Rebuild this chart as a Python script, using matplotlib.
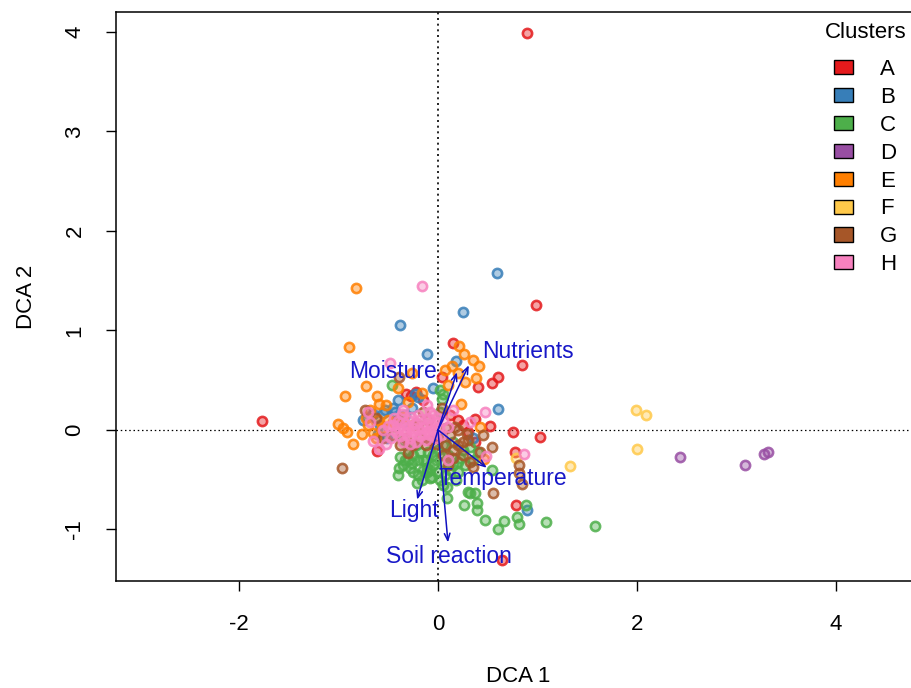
"""
DCA ordination of plots coloured by cluster, with fitted env arrows
"""
import numpy as np
import matplotlib
matplotlib.use("Agg")
import matplotlib.pyplot as plt

plt.rcParams['font.family'] = ['Liberation Sans', 'DejaVu Sans']
plt.rcParams['axes.unicode_minus'] = False

clusters = ["A", "B", "C", "D", "E", "F", "G", "H"]
cluster_colors = ["#E41A1C", "#377EB8", "#4DAF4A", "#984EA3",
                  "#FF7F00", "#FFC94A", "#A65628", "#F781BF"]

# site scores (DCA1, DCA2), one array per cluster
pts_A = np.array([[0.89, 3.99], [0.98, 1.26], [-1.77, 0.09], [0.64, -1.31],
                  [1.03, -0.07], [0.75, -0.02], [0.84, 0.65], [0.15, 0.87],
                  [0.04, 0.53], [0.40, 0.43], [0.54, 0.47], [0.60, 0.53],
                  [-0.27, 0.34], [-0.32, 0.36], [0.37, 0.11], [0.52, 0.04],
                  [0.37, -0.12], [0.77, -0.22], [0.78, -0.75], [-0.61, -0.21],
                  [0.25, 0.05], [0.12, 0.15], [-0.15, 0.30], [0.30, -0.02],
                  [-0.22, 0.38], [0.20, 0.10]])
pts_B = np.array([[0.59, 1.58], [0.25, 1.19], [-0.38, 1.05], [-0.11, 0.76],
                  [0.18, 0.69], [0.60, 0.21], [0.89, -0.80], [-0.05, 0.42],
                  [-0.23, 0.36], [-0.43, 0.18], [-0.53, 0.20], [-0.26, 0.22],
                  [-0.71, 0.13], [-0.55, 0.17], [0.35, -0.08], [-0.60, -0.04],
                  [-0.35, 0.08], [-0.75, 0.10], [-0.51, -0.08], [-0.40, 0.30],
                  [-0.20, 0.33], [-0.65, 0.16], [-0.58, 0.05], [-0.33, 0.15],
                  [-0.45, 0.22]])
pts_C = np.array([[-0.46, 0.45], [0.02, 0.40], [0.05, 0.36], [0.04, 0.31],
                  [0.02, 0.18], [-0.38, -0.27], [-0.26, -0.33], [-0.39, -0.38],
                  [-0.40, -0.45], [-0.20, -0.45], [-0.21, -0.53], [-0.11, -0.42],
                  [0.32, -0.63], [0.37, -0.63], [0.26, -0.75], [0.39, -0.73],
                  [0.39, -0.80], [0.79, -0.87], [0.88, -0.75], [0.47, -0.90],
                  [0.66, -0.92], [0.60, -1.00], [0.81, -0.95], [1.09, -0.93],
                  [0.09, -0.68], [1.58, -0.97], [0.54, -0.40], [0.32, -0.17],
                  [0.25, -0.20], [0.20, -0.32], [0.27, -0.35], [0.05, -0.32],
                  [-0.05, -0.35], [-0.15, -0.30], [-0.30, -0.20], [-0.22, -0.15],
                  [-0.10, -0.22], [0.00, -0.20], [0.10, -0.25], [0.15, -0.12],
                  [-0.35, -0.10], [-0.20, -0.30], [0.12, -0.40], [-0.08, -0.48],
                  [0.05, -0.55], [0.18, -0.50], [-0.11, -0.38], [-0.06, -0.47],
                  [0.09, -0.57], [0.30, -0.62], [0.07, -0.45], [-0.28, -0.38],
                  [-0.33, -0.30], [-0.15, -0.40], [0.22, -0.28], [0.35, -0.30],
                  [-0.25, -0.25], [-0.12, -0.30], [0.00, -0.42], [0.40, -0.22],
                  [-0.30, -0.30], [-0.18, -0.22], [-0.05, -0.25], [0.05, -0.15],
                  [-0.02, -0.30], [0.15, -0.35], [-0.25, -0.42], [-0.08, -0.40],
                  [0.02, -0.50], [-0.35, -0.35], [0.20, -0.42], [-0.16, -0.50]])
pts_D = np.array([[2.43, -0.27], [3.09, -0.35], [3.28, -0.24], [3.32, -0.22]])
pts_E = np.array([[-0.82, 1.43], [-0.89, 0.83], [-0.72, 0.44], [-0.93, 0.34],
                  [-0.61, 0.34], [-0.59, 0.26], [-0.40, 0.42], [-0.26, 0.57],
                  [0.21, 0.84], [0.26, 0.76], [0.35, 0.70], [0.41, 0.64],
                  [0.14, 0.64], [0.07, 0.60], [0.20, 0.57], [0.27, 0.48],
                  [0.38, 0.52], [0.23, 0.26], [0.42, 0.03], [0.46, -0.29],
                  [-1.00, 0.06], [-0.95, 0.02], [-0.91, -0.02], [-0.85, -0.14],
                  [-0.70, 0.05], [-0.65, -0.03], [-0.56, 0.02], [-0.16, 0.37],
                  [-0.35, 0.13], [-0.45, 0.08], [-0.60, 0.10], [-0.30, 0.28],
                  [-0.76, -0.04], [-0.25, 0.05], [0.10, 0.45], [-0.68, 0.20],
                  [-0.52, 0.25], [-0.72, 0.12], [-0.62, -0.08], [-0.50, 0.10]])
pts_F = np.array([[1.99, 0.20], [2.09, 0.15], [2.00, -0.19], [1.33, -0.36],
                  [0.78, -0.28]])
pts_G = np.array([[-0.96, -0.38], [-0.73, 0.20], [-0.39, 0.53], [0.04, 0.22],
                  [0.20, 0.00], [0.29, -0.04], [0.25, -0.12], [0.54, -0.17],
                  [0.81, -0.35], [0.81, -0.43], [0.84, -0.54], [0.55, -0.63],
                  [0.15, -0.20], [0.15, -0.28], [0.32, -0.32], [0.35, -0.37],
                  [0.05, -0.25], [0.12, -0.05], [0.17, 0.03], [-0.15, 0.18],
                  [-0.25, -0.15], [-0.30, -0.23], [-0.45, -0.05], [-0.55, -0.08],
                  [-0.08, -0.10], [0.00, -0.08], [-0.20, 0.05], [0.42, -0.22],
                  [-0.62, 0.12], [0.08, -0.15], [-0.38, -0.15], [0.25, -0.25],
                  [-0.32, -0.08], [-0.12, -0.15], [-0.02, -0.14], [0.08, 0.02],
                  [-0.40, 0.10], [0.20, -0.15], [-0.10, 0.10], [0.30, -0.10],
                  [0.10, -0.35], [-0.18, -0.08], [0.45, -0.05]])
pts_H = np.array([[-0.16, 1.45], [-0.48, 0.67], [-0.11, 0.25], [-0.35, 0.20],
                  [0.15, 0.20], [0.47, 0.18], [0.32, 0.08], [0.86, -0.24],
                  [0.48, -0.26], [-0.65, -0.11], [-0.59, -0.19], [-0.52, -0.14],
                  [0.10, 0.03], [0.10, -0.30], [-0.70, 0.18], [-0.45, 0.05],
                  [-0.40, 0.02], [-0.35, 0.00], [-0.30, 0.03], [-0.25, -0.02],
                  [-0.20, 0.00], [-0.15, 0.02], [-0.10, -0.01], [-0.05, 0.00],
                  [0.00, 0.02], [-0.38, -0.06], [-0.28, -0.08], [-0.18, -0.06],
                  [-0.08, -0.05], [-0.33, 0.06], [-0.22, 0.07], [-0.12, 0.06],
                  [-0.02, 0.08], [-0.42, -0.02], [-0.47, -0.08], [-0.30, 0.10],
                  [-0.10, 0.12], [0.03, -0.05], [-0.55, 0.00], [-0.35, -0.12],
                  [-0.22, -0.12], [-0.68, 0.08], [0.05, 0.10], [-0.05, 0.15],
                  [-0.27, 0.13], [-0.17, 0.11], [-0.40, 0.09], [-0.07, 0.04],
                  [-0.32, -0.03], [-0.14, -0.04], [-0.24, 0.02], [-0.44, 0.12],
                  [-0.02, -0.08], [-0.12, -0.10], [-0.20, 0.15], [-0.36, 0.16],
                  [-0.50, 0.04], [-0.28, -0.14], [0.00, 0.12], [-0.08, 0.18]])
cluster_points = [pts_A, pts_B, pts_C, pts_D, pts_E, pts_F, pts_G, pts_H]

# environmental vectors (arrow tips) and label positions
env_names = ["Nutrients", "Moisture", "Temperature", "Light", "Soil reaction"]
env_tips = np.array([[0.31, 0.65], [0.19, 0.58], [0.49, -0.38],
                     [-0.21, -0.70], [0.10, -1.13]])
env_labels = np.array([[0.90, 0.79], [-0.45, 0.59], [0.65, -0.49],
                       [-0.24, -0.81], [0.11, -1.27]])

fig = plt.figure(figsize=(9.12, 6.88), dpi=100)
ax = fig.add_axes([116 / 912, 107 / 688, 804 / 912, 569 / 688])
ax.set_xlim(-3.236, 4.844)
ax.set_ylim(-1.518, 4.2)

ax.axhline(0, color="black", lw=0.9, ls=(0, (1.2, 2.2)), zorder=1)
ax.axvline(0, color="black", lw=1.2, ls=(0, (1.2, 2.2)), zorder=1)

for pts, col in zip(cluster_points, cluster_colors):
    ax.scatter(pts[:, 0], pts[:, 1], s=44, facecolor=matplotlib.colors.to_rgba(col, 0.4),
               edgecolor=matplotlib.colors.to_rgba(col, 0.85), linewidth=1.9, zorder=2)

for name, tip, lab in zip(env_names, env_tips, env_labels):
    ax.annotate("", xy=tip, xytext=(0, 0),
                arrowprops=dict(arrowstyle="->,head_length=0.5,head_width=0.2",
                                color="#1010C0", lw=1.1, shrinkA=0, shrinkB=0),
                zorder=3)
    ax.text(lab[0], lab[1], name, color="#1818C8", fontsize=16.5,
            ha="center", va="center", zorder=4)

ax.set_xticks([-2, 0, 2, 4])
ax.set_yticks([-1, 0, 1, 2, 3, 4])
ax.set_yticklabels(["-1", "0", "1", "2", "3", "4"], rotation=90, va="center")
ax.tick_params(length=7, width=1, labelsize=16, pad=17)
ax.tick_params(axis="y", pad=15)
ax.set_xlabel("DCA 1", fontsize=16, labelpad=22)
ax.set_ylabel("DCA 2", fontsize=16, labelpad=20)
for sp in ax.spines.values():
    sp.set_linewidth(1.1)

# legend: title as separate text, entries below
fig.text(866 / 912, 1 - 33 / 688, "Clusters", fontsize=16, ha="center", va="center")
handles = [plt.Rectangle((0, 0), 1, 1, facecolor=c, edgecolor="black", lw=1)
           for c in cluster_colors]
leg = ax.legend(handles, clusters, loc="upper right",
                bbox_to_anchor=(897 / 912, 1 - 59 / 688), bbox_transform=fig.transFigure,
                frameon=False, fontsize=16,
                handlelength=0.85, handleheight=0.6, handletextpad=1.2,
                labelspacing=0.31, borderaxespad=0, borderpad=0)

fig.savefig("out.png", dpi=100)
